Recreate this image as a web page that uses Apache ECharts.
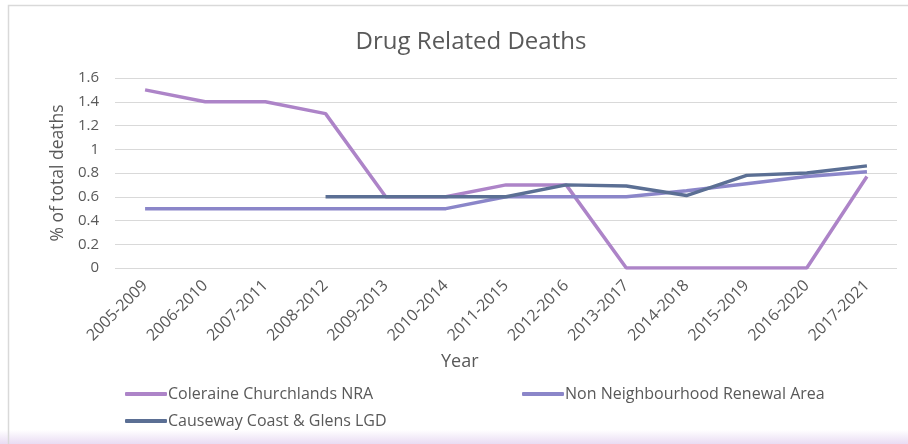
<!DOCTYPE html>
<html>
<head>
<meta charset="utf-8">
<script src="https://cdn.jsdelivr.net/npm/echarts@6/dist/echarts.min.js"></script>
<style>
html,body{margin:0;padding:0;background:#fff;}
#chart{width:908px;height:444px;}
</style>
</head>
<body>
<div id="chart"></div>
<script>
var categories = ['2005-2009','2006-2010','2007-2011','2008-2012','2009-2013','2010-2014','2011-2015','2012-2016','2013-2017','2014-2018','2015-2019','2016-2020','2017-2021'];
var coleraine = [1.5, 1.4, 1.4, 1.3, 0.6, 0.6, 0.7, 0.7, 0, 0, 0, 0, 0.77];
var nonNRA = [0.5, 0.5, 0.5, 0.5, 0.5, 0.5, 0.6, 0.6, 0.6, 0.65, 0.71, 0.77, 0.81];
var causeway = [null, null, null, 0.6, 0.6, 0.6, 0.6, 0.7, 0.69, 0.61, 0.78, 0.8, 0.86];
var seriesNames = ['Coleraine Churchlands NRA', 'Non Neighbourhood Renewal Area', 'Causeway Coast & Glens LGD'];
var colors = ['#AD84C8', '#8B86C9', '#5B6F94'];

var FONT = '"Open Sans", sans-serif';
var chart = echarts.init(document.getElementById('chart'));
function legend(name, left, top) {
  return {
    data: [name], left: left, top: top, orient: 'horizontal',
    itemWidth: 42, itemHeight: 4, icon: 'roundRect', itemGap: 0,
    textStyle: {color: '#595959', fontSize: 16, fontFamily: FONT, padding: [0,0,0,-4]}
  };
}
var option = {
  animation: false,
  backgroundColor: '#fff',
  title: {
    text: 'Drug Related Deaths', left: 466, top: 25, textAlign: 'center',
    textStyle: {color: '#595959', fontSize: 24, fontWeight: 'normal', fontFamily: FONT}
  },
  graphic: [
    {type: 'rect', shape: {x: 0, y: 430, width: 908, height: 14}, z: -10,
      style: {fill: new echarts.graphic.LinearGradient(0,0,0,1,[{offset:0,color:'#ffffff'},{offset:1,color:'#e9dcf3'}])}},
    {type: 'rect', shape: {x: 8.5, y: 5.5, width: 920, height: 460}, z: -5,
      style: {fill: 'none', stroke: '#d9d9d9', lineWidth: 1.5}},
    {type: 'text', left: 441, top: 353, style: {text: 'Year', fill: '#595959', fontSize: 18, fontFamily: FONT}}
  ],
  legend: [
    legend(seriesNames[0], 120, 381),
    legend(seriesNames[1], 517, 381),
    legend(seriesNames[2], 120, 408)
  ],
  grid: {left: 115, right: 11, top: 78, bottom: 176, containLabel: false},
  xAxis: {
    type: 'category', data: categories, boundaryGap: true,
    axisLine: {show: false}, axisTick: {show: false},
    axisLabel: {rotate: 45, color: '#595959', fontSize: 16, fontFamily: FONT, interval: 0, margin: 15}
  },
  yAxis: {
    type: 'value', min: 0, max: 1.6, interval: 0.2,
    name: '% of total deaths', nameLocation: 'middle', nameGap: 46, nameRotate: 90,
    nameTextStyle: {color: '#595959', fontSize: 17.5, fontFamily: FONT},
    axisLine: {show: false}, axisTick: {show: false},
    axisLabel: {color: '#595959', fontSize: 15, fontFamily: FONT, margin: 16},
    splitLine: {lineStyle: {color: '#d9d9d9', width: 1}}
  },
  series: [
    {name: seriesNames[0], type: 'line', data: coleraine, showSymbol: false, symbol: 'none', color: colors[0], lineStyle: {width: 3.5, color: colors[0]}},
    {name: seriesNames[1], type: 'line', data: nonNRA, showSymbol: false, symbol: 'none', color: colors[1], lineStyle: {width: 3.5, color: colors[1]}},
    {name: seriesNames[2], type: 'line', data: causeway, showSymbol: false, symbol: 'none', color: colors[2], lineStyle: {width: 3.5, color: colors[2]}}
  ]
};
chart.setOption(option);
</script>
</body>
</html>
